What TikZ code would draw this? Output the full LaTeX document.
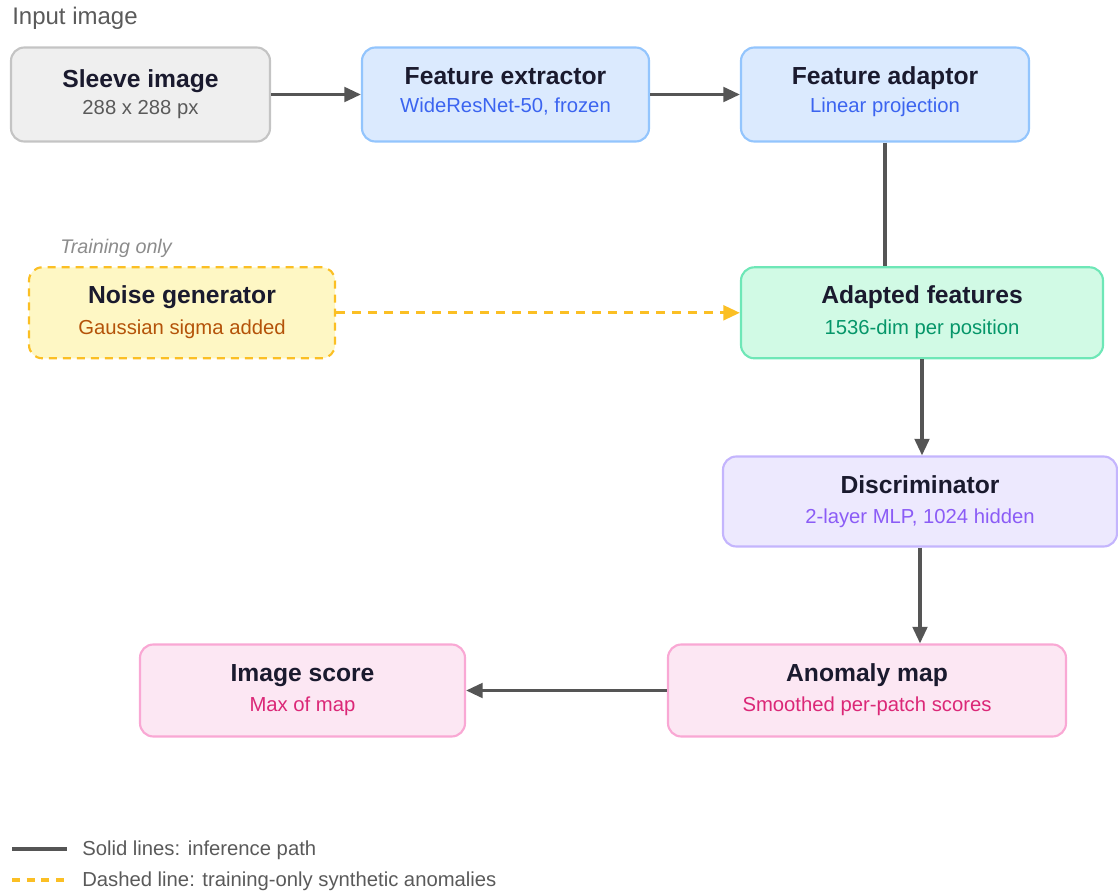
\documentclass[tikz,border=0pt]{standalone}
\usepackage{fontspec}
\setmainfont{Liberation Sans}
\usetikzlibrary{positioning, arrows.meta, calc}
\definecolor{inkdark}{RGB}{26,26,46}
\definecolor{arrowgray}{RGB}{85,85,85}
\definecolor{labelgray}{RGB}{90,90,90}
\definecolor{notegray}{RGB}{140,140,140}
\definecolor{greyfill}{RGB}{239,239,239}
\definecolor{greyline}{RGB}{196,196,196}
\definecolor{bluefill}{RGB}{219,234,254}
\definecolor{blueline}{RGB}{147,197,253}
\definecolor{bluetext}{RGB}{59,100,240}
\definecolor{yellowfill}{RGB}{254,247,196}
\definecolor{amberline}{RGB}{251,191,36}
\definecolor{ambertext}{RGB}{180,83,9}
\definecolor{greenfill}{RGB}{209,250,229}
\definecolor{greenline}{RGB}{110,231,183}
\definecolor{greentext}{RGB}{5,150,105}
\definecolor{purplefill}{RGB}{237,233,254}
\definecolor{purpleline}{RGB}{196,181,253}
\definecolor{purpletext}{RGB}{139,92,246}
\definecolor{pinkfill}{RGB}{252,231,243}
\definecolor{pinkline}{RGB}{249,168,212}
\definecolor{pinktext}{RGB}{219,39,119}

\tikzset{
  box/.style={rounded corners=10pt, line width=1.6pt, inner sep=0pt},
  boxtitle/.style={anchor=base, inner sep=0pt, text=inkdark,
    font=\fontsize{18.5}{22}\selectfont\bfseries},
  boxsub/.style={anchor=base, inner sep=0pt, font=\fontsize{15.2}{18}\selectfont},
  legendtext/.style={anchor=base west, inner sep=0pt, text=labelgray,
    font=\fontsize{15.2}{18}\selectfont},
  flow/.style={draw=arrowgray, line width=2.4pt,
    -{Triangle[length=12.5pt, width=11pt]}},
  trainflow/.style={draw=amberline, line width=2.4pt, dash pattern=on 7pt off 5pt,
    -{Triangle[length=12.5pt, width=11pt]}},
}

\begin{document}
\begin{tikzpicture}[x=0.75pt, y=-0.75pt]
  \useasboundingbox (0,0) rectangle (1118,892);

  % top row
  \node[anchor=base west, inner sep=0pt, text=labelgray,
    font=\fontsize{18}{22}\selectfont] (inputlabel) at (12,25) {Input image};

  \node[box, draw=greyline, fill=greyfill, minimum width=194.25pt,
    minimum height=70.5pt] (sleeve) at (140.5,94.5) {};
  \node[boxtitle] (sleevetitle) at ($(sleeve.center)+(0,-7)$) {Sleeve image};
  \node[boxsub, text=labelgray] (sleevesub) at ($(sleeve.center)+(0,20)$) {288 x 288 px};

  \node[box, draw=blueline, fill=bluefill, minimum width=215.25pt,
    minimum height=70.5pt] (extractor) at (505.5,94.5) {};
  \node[boxtitle] (extractortitle) at ($(extractor.center)+(0,-10)$) {Feature extractor};
  \node[boxsub, text=bluetext] (extractorsub) at ($(extractor.center)+(0,18)$) {WideResNet-50, frozen};

  \node[box, draw=blueline, fill=bluefill, minimum width=216pt,
    minimum height=70.5pt] (adaptor) at (885,94.5) {};
  \node[boxtitle] (adaptortitle) at ($(adaptor.center)+(0,-10)$) {Feature adaptor};
  \node[boxsub, text=bluetext] (adaptorsub) at ($(adaptor.center)+(0,18)$) {Linear projection};

  % training branch
  \node[anchor=base west, inner sep=0pt, text=notegray,
    font=\fontsize{14.8}{18}\selectfont\itshape] (trainlabel) at (60,253) {Training only};

  \node[box, draw=amberline, fill=yellowfill, dash pattern=on 6pt off 4.5pt,
    minimum width=229.5pt, minimum height=68.25pt] (noise) at (182,312.8) {};
  \node[boxtitle] (noisetitle) at ($(noise.center)+(0,-9)$) {Noise generator};
  \node[boxsub, text=ambertext] (noisesub) at ($(noise.center)+(0,22)$) {Gaussian sigma added};

  \node[box, draw=greenline, fill=greenfill, minimum width=271.5pt,
    minimum height=68.25pt] (adapted) at (922,312.8) {};
  \node[boxtitle] (adaptedtitle) at ($(adapted.center)+(0,-9)$) {Adapted features};
  \node[boxsub, text=greentext] (adaptedsub) at ($(adapted.center)+(0,22)$) {1536-dim per position};

  % scoring
  \node[box, draw=purpleline, fill=purplefill, minimum width=295.5pt,
    minimum height=67.5pt] (disc) at (920,501.5) {};
  \node[boxtitle] (disctitle) at ($(disc.center)+(0,-8)$) {Discriminator};
  \node[boxsub, text=purpletext] (discsub) at ($(disc.center)+(0,22)$) {2-layer MLP, 1024 hidden};

  \node[box, draw=pinkline, fill=pinkfill, minimum width=298.5pt,
    minimum height=69pt] (map) at (867,690.5) {};
  \node[boxtitle] (maptitle) at ($(map.center)+(0,-9)$) {Anomaly map};
  \node[boxsub, text=pinktext] (mapsub) at ($(map.center)+(0,21)$) {Smoothed per-patch scores};

  \node[box, draw=pinkline, fill=pinkfill, minimum width=243.75pt,
    minimum height=69pt] (score) at (302.5,690.5) {};
  \node[boxtitle] (scoretitle) at ($(score.center)+(0,-9)$) {Image score};
  \node[boxsub, text=pinktext] (scoresub) at ($(score.center)+(0,21)$) {Max of map};

  % connectors
  \draw[flow] (sleeve) -- (extractor);
  \draw[flow] (extractor) -- (adaptor);
  \draw[draw=arrowgray, line width=2.4pt] (adaptor.south) -- (adaptor.south |- adapted.north);
  \draw[trainflow] (noise) -- (adapted);
  \draw[flow] (adapted.south) -- (adapted.south |- disc.north);
  \draw[flow] (disc.south) -- (disc.south |- map.north);
  \draw[flow] (map) -- (score);

  % legend
  \coordinate (solidA) at (12,849);
  \coordinate (solidB) at (67,849);
  \coordinate (dashA) at (12,880);
  \coordinate (dashB) at (67,880);
  \draw[draw=arrowgray, line width=2.4pt] (solidA) -- (solidB);
  \draw[draw=amberline, line width=2.4pt, dash pattern=on 6pt off 5pt] (dashA) -- (dashB);
  \node[legendtext] (solidnote) at (82,855) {Solid lines: inference path};
  \node[legendtext] (dashnote) at (82,886) {Dashed line: training-only synthetic anomalies};
\end{tikzpicture}
\end{document}
